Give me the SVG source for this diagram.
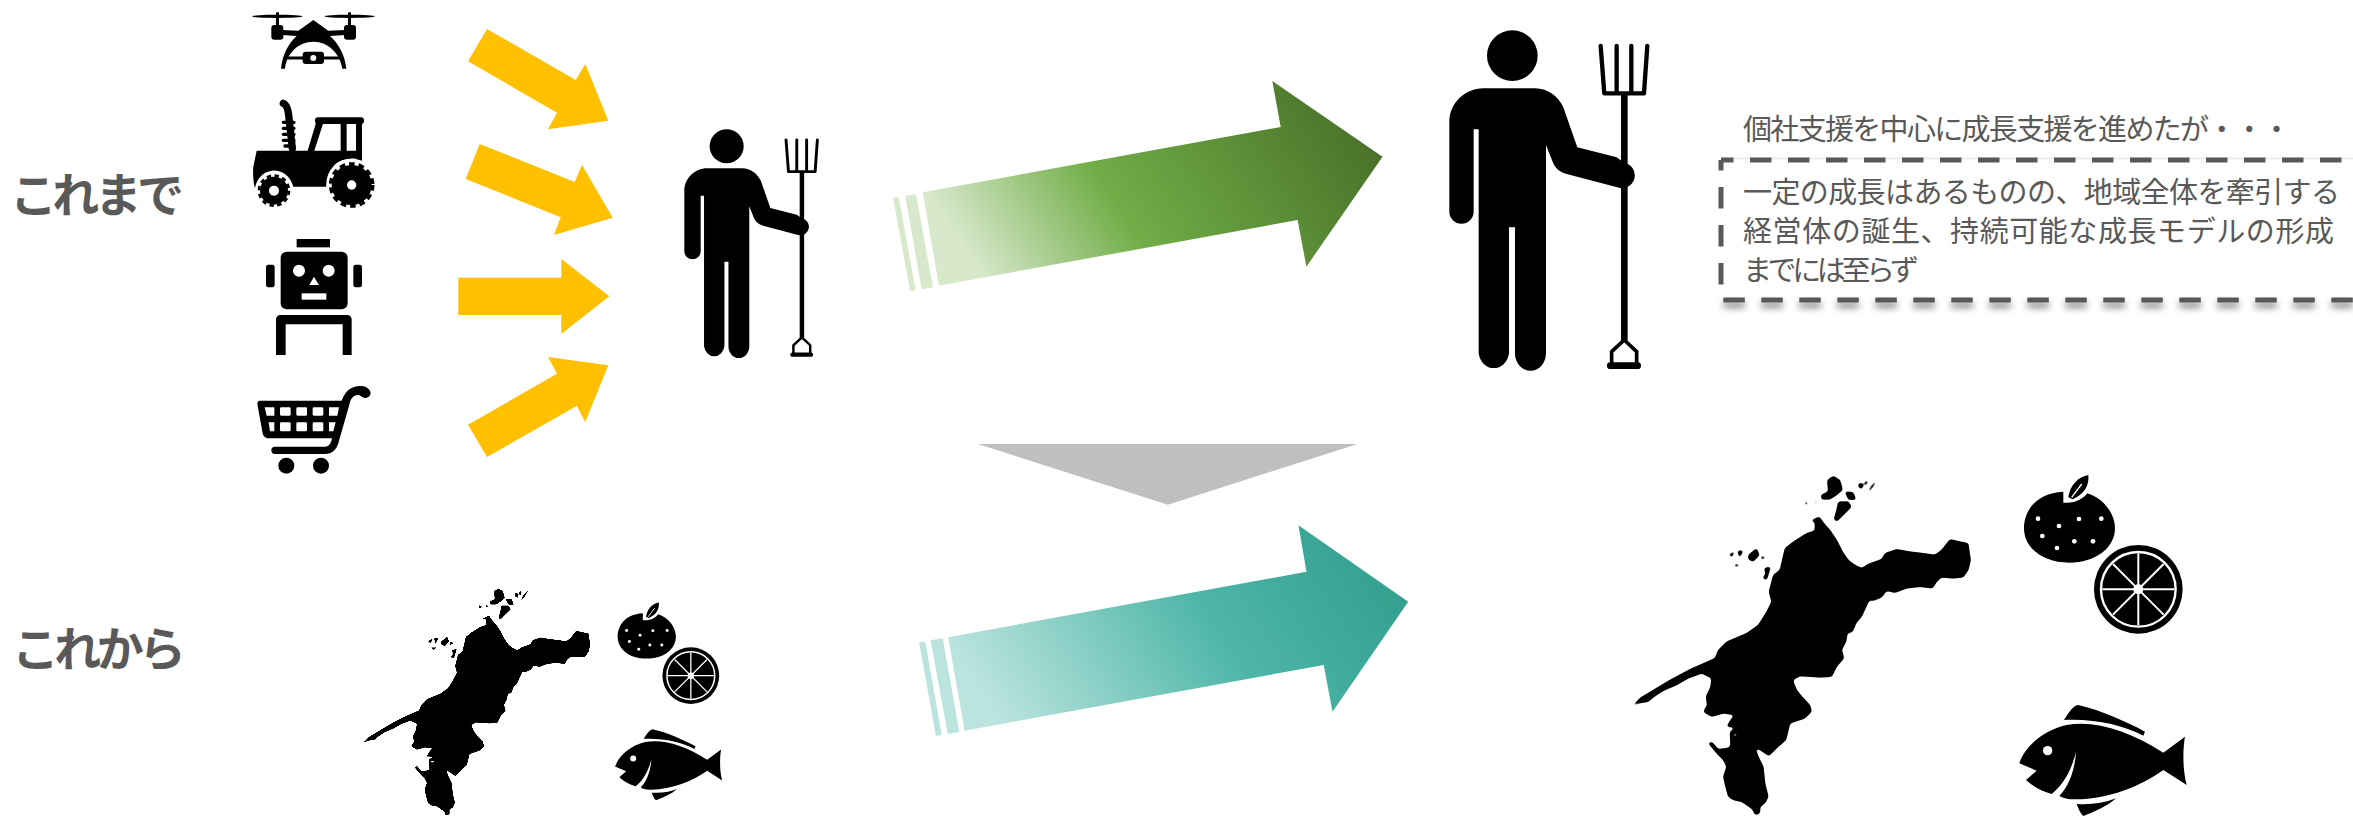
<svg xmlns="http://www.w3.org/2000/svg" width="2353" height="817" viewBox="0 0 2353 817">
<style>
text{font-family:"Noto Sans CJK JP","Noto Sans",sans-serif;fill:#595959}
.head{font-size:47px;font-weight:700}
.body{font-size:29px}
.yellow{fill:#ffc000}
.dash{fill:none;stroke:#595959;stroke-width:5;stroke-dasharray:21.5 16.5}
.k{fill:#000}
.w{fill:#fff}
.wl{fill:none;stroke:#fff}
.bl{fill:none;stroke:#000}
</style>
<defs>
<linearGradient id="gGreen" gradientUnits="userSpaceOnUse" x1="964.7" y1="250" x2="1300.8" y2="32">
<stop offset="0" stop-color="#d7e8cb"/><stop offset=".382" stop-color="#70ad47"/><stop offset="1" stop-color="#4a7229"/>
</linearGradient>
<linearGradient id="gTeal" gradientUnits="userSpaceOnUse" x1="974.5" y1="683.3" x2="1316.8" y2="461.3">
<stop offset="0" stop-color="#bbe4de"/><stop offset=".57" stop-color="#4eb6a8"/><stop offset="1" stop-color="#33a08e"/>
</linearGradient>
<filter id="sh" filterUnits="userSpaceOnUse" x="1700" y="280" width="653" height="50">
<feDropShadow dx="0" dy="5" stdDeviation="3.5" flood-color="#000" flood-opacity=".55"/>
</filter>
<filter id="smoothL" x="-5%" y="-5%" width="110%" height="110%">
<feGaussianBlur stdDeviation="1.6"/>
<feComponentTransfer><feFuncA type="linear" slope="4" intercept="-1.5"/></feComponentTransfer>
</filter>
<filter id="smoothS" x="-5%" y="-5%" width="110%" height="110%">
<feGaussianBlur stdDeviation=".7"/>
<feComponentTransfer><feFuncA type="linear" slope="3" intercept="-1"/></feComponentTransfer>
</filter>
<g id="farmer">
<circle class="k" cx="277" cy="107" r="76"/>
<path class="k" d="M190,205L345,205C385,205 415,230 430,262L472,382L590,412L612,428A38,38 0 0 1 600,504L440,462C420,456 405,445 398,425L378,375L378,1000A46,52 0 0 1 285,1000L285,622L267,622L267,1000A46,52 0 0 1 176,1000L176,328L161,328L161,575A36,36 0 0 1 88,575L88,305C88,250 135,205 190,205Z"/>
<path class="bl" stroke-width="13" stroke-linecap="round" d="M542,78L553,220M590,78L590,220M634,78L634,220M682,78L672,220M553,220L672,220"/>
<path class="bl" stroke-width="20" d="M613,220L613,962"/>
<path class="bl" stroke-width="11" d="M613,960L575,995L575,1034M613,960L650,995L650,1034"/>
<path class="bl" stroke-width="20" stroke-linecap="round" d="M571,1037L653,1037"/>
</g>
<path id="ehime" class="k" stroke="#000" stroke-width="2" stroke-linejoin="round" d="M598,170L612,190L630,210L650,240L668,275L685,300L705,315L725,325L745,312L785,298L795,280L830,268L870,275L910,280L945,285L965,270L990,238L1020,245L1045,250L1048,275L1052,300L1045,330L1030,352L1000,355L965,352L950,365L938,385L900,380L860,385L825,398L800,392L785,412L760,422L748,420L735,448L725,470L708,490L698,515L682,520L678,545L665,570L672,595L650,620L635,650L600,652L540,648L518,660L530,690L548,712L570,735L575,755L555,775L510,790L498,840L475,860L447,888L420,870L405,862L415,890L430,920L435,970L445,1010L435,1030L420,1040L420,1060L405,1065L398,1048L365,1025L340,1020L325,1010L318,985L310,950L320,920L310,900L290,880L265,850L275,845L295,868L320,865L332,860L330,815L350,802L320,800L335,775L345,765L310,760L275,770L250,755L262,735L258,710L272,680L275,655L245,640L205,655L170,675L130,692L100,712L85,725L55,730L37,738L60,714L100,690L150,660L210,628L285,595L295,570L320,545L380,520L415,495L440,455L455,425L447,395L460,345L480,330L495,265L520,245L560,220L585,212L585,185L572,182ZM338,820L338,830L355,828L352,820ZM640,48L660,60L668,90L650,105L630,118L605,118L603,105L625,95L622,60ZM675,95L700,97L708,120L685,118ZM655,125L685,125L695,140L665,170L650,185L642,178L650,150ZM718,68L730,72L726,88L714,80ZM738,60L744,66L738,78L734,70ZM772,58L760,80L745,98L748,86L760,70ZM554,124L566,130L556,136ZM586,120L594,128L584,130ZM326,284L344,274L336,292ZM353,272L370,272L358,294ZM385,285L410,265L418,285L400,305L385,298ZM423,288L438,292L425,300ZM340,313L360,313L350,322ZM432,325L452,320L440,360L428,355L438,340Z"/>
<g id="fruit">
<path class="k" d="M190,95C100,100 72,160 72,205C72,265 130,308 208,308C285,308 345,265 345,205C345,160 310,115 262,100C250,115 225,132 190,128Z"/>
<path class="k" d="M205,112C210,75 235,50 265,45C268,75 255,100 218,118Z"/>
<path class="wl" stroke-width="4" d="M245,72L215,112"/>
<g class="w"><circle cx="114" cy="176" r="7"/><circle cx="177" cy="198" r="7"/><circle cx="237" cy="177" r="7"/><circle cx="304" cy="176" r="7"/><circle cx="127" cy="228" r="7"/><circle cx="223" cy="244" r="7"/><circle cx="279" cy="244" r="7"/><circle cx="171" cy="264" r="7"/></g>
<circle class="k" cx="415" cy="388" r="133"/>
<circle class="wl" cx="415" cy="388" r="112" stroke-width="7"/>
<path class="wl" stroke-width="6" d="M415,280L415,496M307,388L523,388M339,312L491,464M491,312L339,464"/>
<circle class="w" cx="415" cy="388" r="15"/>
</g>
<g id="fish">
<path class="k" d="M58,910C75,860 130,810 200,795C290,780 390,815 490,878L555,830C548,870 548,930 560,975L490,930C420,980 320,1020 220,1018C205,1018 190,1015 178,1008C210,975 225,925 228,875C215,930 190,975 155,1002C125,995 100,980 78,960L110,932Z"/>
<circle class="w" cx="143" cy="872" r="14"/>
<path class="k" d="M192,780C205,760 220,735 235,735C300,750 380,785 435,815L430,827C370,795 280,775 192,780Z"/>
<path class="k" d="M230,1032C270,1035 310,1030 348,1015C320,1040 285,1055 250,1068C240,1060 235,1045 230,1032Z"/>
</g>
</defs>

<rect width="2353" height="817" fill="#fff"/>

<g id="label-before"><text class="head" x="10" y="212" textLength="174">これまで</text></g>
<g id="label-after"><text class="head" x="12" y="666" textLength="174">これから</text></g>

<g id="drone" transform="translate(230,0) scale(.3333)">
<ellipse class="k" cx="142" cy="49" rx="76" ry="5"/><ellipse class="k" cx="359" cy="49" rx="76" ry="5"/>
<rect class="k" x="138" y="37" width="9" height="40"/><rect class="k" x="354" y="37" width="9" height="40"/>
<rect class="k" x="124" y="75" width="36" height="44" rx="9"/><rect class="k" x="342" y="75" width="36" height="44" rx="9"/>
<path class="k" d="M155,90L205,92L250,60L295,92L345,90L345,105L300,108C325,130 345,165 349,206L337,206C330,160 295,125 250,125C205,125 170,160 165,206L153,206C157,165 175,130 200,108L155,105Z"/>
<path class="bl" stroke-width="9" d="M165,174L335,174"/>
<rect class="k" x="218" y="155" width="64" height="37" rx="9"/>
<circle class="w" cx="250" cy="174" r="9"/>
</g>

<g id="tractor" transform="translate(230,0) scale(.3333)">
<path class="bl" stroke-width="22" stroke-linecap="round" d="M187,445L176,345C174,325 170,315 160,310"/>
<path class="bl" stroke-width="10" stroke-linecap="round" d="M160,367L192,367M160,385L192,385M160,403L192,403M160,421L192,421M165,438L192,438"/>
<rect class="k" x="255" y="352" width="147" height="20" rx="9"/>
<path class="k" d="M258,368L280,368L252,455L232,455ZM332,368H350V455H332ZM378,368H396V485H378Z"/>
<path class="k" d="M80,452H396V478C350,470 320,485 310,500L288,560H190C180,525 155,510 125,512C100,515 80,535 75,565C70,550 68,520 70,500Z"/>
<circle class="w" cx="365" cy="552" r="76"/>
<circle class="k" cx="365" cy="555" r="60"/>
<circle class="bl" cx="365" cy="555" r="63" stroke-width="11" stroke-dasharray="17 11.7"/>
<circle class="w" cx="365" cy="555" r="14"/>
<circle class="k" cx="132" cy="572" r="42"/>
<circle class="bl" cx="132" cy="572" r="45" stroke-width="8" stroke-dasharray="13 10.6"/>
<circle class="w" cx="132" cy="572" r="15"/>
</g>

<g id="robot" transform="translate(230,230) scale(.3333)">
<rect class="k" x="200" y="27" width="100" height="25"/>
<rect class="k" x="152" y="65" width="201" height="173" rx="18"/>
<rect class="k" x="108" y="104" width="26" height="68" rx="7"/><rect class="k" x="370" y="104" width="26" height="68" rx="7"/>
<circle class="w" cx="207" cy="122" r="18"/><circle class="w" cx="296" cy="122" r="18"/>
<path class="w" d="M252,140L267,165L238,165Z"/><rect class="w" x="215" y="190" width="74" height="19"/>
<path class="k" d="M138,375V268A13,13 0 0 1 151,255H352A13,13 0 0 1 365,268V375H338V283H167V375Z"/>
</g>

<g id="cart" transform="translate(230,230) scale(.3333)">
<path class="k" d="M90,512L335,512C345,490 355,468 395,468C410,468 422,480 422,490C420,505 405,507 395,500C385,490 370,495 362,510L325,640C318,662 305,672 285,672L135,672A11,11 0 0 1 135,650L285,650C298,650 303,640 306,625L115,625C105,625 100,618 98,610L82,522C82,515 85,512 90,512Z"/>
<g class="w"><path d="M104,532H133V557H110ZM116,577H133V604H120ZM297,577H317L310,604H297ZM297,532H327L322,557H297Z"/>
<rect x="150" y="532" width="32" height="25" rx="4"/><rect x="199" y="532" width="32" height="25" rx="4"/><rect x="248" y="532" width="32" height="25" rx="4"/>
<rect x="150" y="577" width="32" height="27" rx="4"/><rect x="199" y="577" width="32" height="27" rx="4"/><rect x="248" y="577" width="32" height="27" rx="4"/></g>
<circle class="k" cx="169" cy="707" r="24"/><circle class="k" cx="273" cy="707" r="24"/>
</g>

<g id="farmer-small"><use href="#farmer" transform="translate(660,120) scale(.3333) translate(200,79) scale(.672) translate(-277,-107)"/></g>
<g id="farmer-large"><use href="#farmer" transform="translate(1420,20) scale(.3333)"/></g>

<g id="note-lead"><text class="body" x="1743" y="140" textLength="548">個社支援を中心に成長支援を進めたが・・・</text></g>

<g id="note-box">
<path d="M1721,160H2353V300H1721Z" fill="#fff"/>
<path d="M1721,158.500H2353" stroke="#ececec" stroke-width="2" fill="none"/>
<path class="dash" d="M1721,160H2353" stroke-dashoffset="9"/>
<path class="dash" d="M1721,160V290" stroke-dashoffset="11"/>
<path class="dash" d="M1723.300,300H2353" filter="url(#sh)"/>
<text class="body" x="1743" y="203" textLength="597">一定の成長はあるものの、地域全体を牽引する</text>
<text class="body" x="1743" y="242" textLength="591">経営体の誕生、持続可能な成長モデルの形成</text>
<text class="body" x="1743" y="281" textLength="176">までには至らず</text>
</g>

<g id="ehime-small" filter="url(#smoothS)"><use href="#ehime" transform="translate(355.77,578) scale(.2227)"/></g>
<g id="ehime-large" filter="url(#smoothL)"><use href="#ehime" transform="translate(1620,460) scale(.3333)"/></g>
<g id="fruit-small"><use href="#fruit" transform="translate(602.3,592.9) scale(.2133)"/></g>
<g id="fruit-large"><use href="#fruit" transform="translate(2000,460) scale(.3333)"/></g>
<g id="fish-small"><use href="#fish" transform="translate(602.7,572.5) scale(.2133)"/></g>
<g id="fish-large"><use href="#fish" transform="translate(2000,460) scale(.3333)"/></g>

<g id="connectors">
<polygon class="yellow" points="487,29 575.7,80 585.3,64 608.3,120.700 548,129.300 557,112.700 468,61.300"/>
<polygon class="yellow" points="479.700,144 574.700,182 582,165 612.700,217.700 554,235 560.700,217.300 465.700,179"/>
<polygon class="yellow" points="458.300,277.700 561.300,277.700 561.300,259 609.300,296.300 561.300,334 561.300,315 458.300,315"/>
<polygon class="yellow" points="487,457 576.700,406 585.300,422 608.300,365.300 548,357 557,373.700 468,424.700"/>
<g fill="url(#gGreen)">
<polygon points="922.700,192.300 1280.700,127 1272.300,81 1382.500,156.700 1306.400,266.700 1297.600,220 939,285.700"/>
<polygon points="905.200,196 916,194 932.900,287.300 921.700,289.300"/>
<polygon points="893,198 898.700,197 915.600,290 910.200,291"/>
</g>
<g fill="url(#gTeal)">
<polygon points="948.100,637.300 1306.500,571.700 1298.400,525.300 1408.200,601.700 1332.500,711.700 1323.700,665 964.700,730.700"/>
<polygon points="930.600,640.300 942.700,638.300 959.300,732 947.800,734"/>
<polygon points="919,642.300 925.200,641.300 941.700,734.700 936,736"/>
</g>
<polygon fill="#bfbfbf" points="977.900,444 1357.500,444 1167.900,504.700"/>
</g>
</svg>
